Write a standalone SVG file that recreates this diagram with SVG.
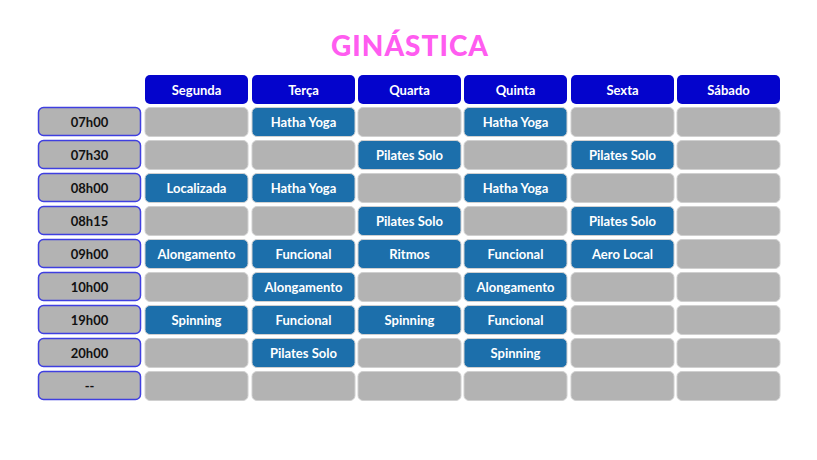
<svg xmlns="http://www.w3.org/2000/svg" width="817" height="460" viewBox="0 0 817 460">
<style>
.t{font-family:"Lato","Noto Sans",sans-serif;font-weight:bold;font-size:13px;text-anchor:middle;dominant-baseline:central}
.w{fill:#fff}.k{fill:#111}
.hd{fill:#0404cc}
.tm{fill:#b3b3b3;stroke:#3f3fe0;stroke-width:1.5}
.e{fill:#b3b3b3;stroke:#d0d0d0;stroke-width:1}
.c{fill:#1c6fab;stroke:#d0d0d0;stroke-width:1}
.ti{font-family:"Lato","Open Sans",sans-serif;font-weight:900;font-size:28px;fill:#ff5cf0;text-anchor:middle;letter-spacing:1px}
</style>
<rect width="817" height="460" fill="#fff"/>
<text class="ti" x="410" y="56">GINÁSTICA</text>
<g id="header">
<rect class="hd" x="145" y="75" width="103" height="29" rx="5"/><text class="t w" x="196.5" y="89.5">Segunda</text>
<rect class="hd" x="252" y="75" width="103" height="29" rx="5"/><text class="t w" x="303.5" y="89.5">Terça</text>
<rect class="hd" x="358" y="75" width="103" height="29" rx="5"/><text class="t w" x="409.5" y="89.5">Quarta</text>
<rect class="hd" x="464" y="75" width="103" height="29" rx="5"/><text class="t w" x="515.5" y="89.5">Quinta</text>
<rect class="hd" x="571" y="75" width="103" height="29" rx="5"/><text class="t w" x="622.5" y="89.5">Sexta</text>
<rect class="hd" x="677" y="75" width="103" height="29" rx="5"/><text class="t w" x="728.5" y="89.5">Sábado</text>
</g>
<g id="row1"><rect class="tm" x="38.5" y="107.5" width="102" height="28" rx="5"/><text class="t k" x="89.5" y="122">07h00</text>
<rect class="e" x="145" y="107.5" width="103" height="29" rx="5"/>
<rect class="c" x="252" y="107.5" width="103" height="29" rx="5"/><text class="t w" x="303.5" y="122">Hatha Yoga</text>
<rect class="e" x="358" y="107.5" width="103" height="29" rx="5"/>
<rect class="c" x="464" y="107.5" width="103" height="29" rx="5"/><text class="t w" x="515.5" y="122">Hatha Yoga</text>
<rect class="e" x="571" y="107.5" width="103" height="29" rx="5"/>
<rect class="e" x="677" y="107.5" width="103" height="29" rx="5"/></g>
<g id="row2"><rect class="tm" x="38.5" y="140.5" width="102" height="28" rx="5"/><text class="t k" x="89.5" y="155">07h30</text>
<rect class="e" x="145" y="140.5" width="103" height="29" rx="5"/>
<rect class="e" x="252" y="140.5" width="103" height="29" rx="5"/>
<rect class="c" x="358" y="140.5" width="103" height="29" rx="5"/><text class="t w" x="409.5" y="155">Pilates Solo</text>
<rect class="e" x="464" y="140.5" width="103" height="29" rx="5"/>
<rect class="c" x="571" y="140.5" width="103" height="29" rx="5"/><text class="t w" x="622.5" y="155">Pilates Solo</text>
<rect class="e" x="677" y="140.5" width="103" height="29" rx="5"/></g>
<g id="row3"><rect class="tm" x="38.5" y="173.5" width="102" height="28" rx="5"/><text class="t k" x="89.5" y="188">08h00</text>
<rect class="c" x="145" y="173.5" width="103" height="29" rx="5"/><text class="t w" x="196.5" y="188">Localizada</text>
<rect class="c" x="252" y="173.5" width="103" height="29" rx="5"/><text class="t w" x="303.5" y="188">Hatha Yoga</text>
<rect class="e" x="358" y="173.5" width="103" height="29" rx="5"/>
<rect class="c" x="464" y="173.5" width="103" height="29" rx="5"/><text class="t w" x="515.5" y="188">Hatha Yoga</text>
<rect class="e" x="571" y="173.5" width="103" height="29" rx="5"/>
<rect class="e" x="677" y="173.5" width="103" height="29" rx="5"/></g>
<g id="row4"><rect class="tm" x="38.5" y="206.5" width="102" height="28" rx="5"/><text class="t k" x="89.5" y="221">08h15</text>
<rect class="e" x="145" y="206.5" width="103" height="29" rx="5"/>
<rect class="e" x="252" y="206.5" width="103" height="29" rx="5"/>
<rect class="c" x="358" y="206.5" width="103" height="29" rx="5"/><text class="t w" x="409.5" y="221">Pilates Solo</text>
<rect class="e" x="464" y="206.5" width="103" height="29" rx="5"/>
<rect class="c" x="571" y="206.5" width="103" height="29" rx="5"/><text class="t w" x="622.5" y="221">Pilates Solo</text>
<rect class="e" x="677" y="206.5" width="103" height="29" rx="5"/></g>
<g id="row5"><rect class="tm" x="38.5" y="239.5" width="102" height="28" rx="5"/><text class="t k" x="89.5" y="254">09h00</text>
<rect class="c" x="145" y="239.5" width="103" height="29" rx="5"/><text class="t w" x="196.5" y="254">Alongamento</text>
<rect class="c" x="252" y="239.5" width="103" height="29" rx="5"/><text class="t w" x="303.5" y="254">Funcional</text>
<rect class="c" x="358" y="239.5" width="103" height="29" rx="5"/><text class="t w" x="409.5" y="254">Ritmos</text>
<rect class="c" x="464" y="239.5" width="103" height="29" rx="5"/><text class="t w" x="515.5" y="254">Funcional</text>
<rect class="c" x="571" y="239.5" width="103" height="29" rx="5"/><text class="t w" x="622.5" y="254">Aero Local</text>
<rect class="e" x="677" y="239.5" width="103" height="29" rx="5"/></g>
<g id="row6"><rect class="tm" x="38.5" y="272.5" width="102" height="28" rx="5"/><text class="t k" x="89.5" y="287">10h00</text>
<rect class="e" x="145" y="272.5" width="103" height="29" rx="5"/>
<rect class="c" x="252" y="272.5" width="103" height="29" rx="5"/><text class="t w" x="303.5" y="287">Alongamento</text>
<rect class="e" x="358" y="272.5" width="103" height="29" rx="5"/>
<rect class="c" x="464" y="272.5" width="103" height="29" rx="5"/><text class="t w" x="515.5" y="287">Alongamento</text>
<rect class="e" x="571" y="272.5" width="103" height="29" rx="5"/>
<rect class="e" x="677" y="272.5" width="103" height="29" rx="5"/></g>
<g id="row7"><rect class="tm" x="38.5" y="305.5" width="102" height="28" rx="5"/><text class="t k" x="89.5" y="320">19h00</text>
<rect class="c" x="145" y="305.5" width="103" height="29" rx="5"/><text class="t w" x="196.5" y="320">Spinning</text>
<rect class="c" x="252" y="305.5" width="103" height="29" rx="5"/><text class="t w" x="303.5" y="320">Funcional</text>
<rect class="c" x="358" y="305.5" width="103" height="29" rx="5"/><text class="t w" x="409.5" y="320">Spinning</text>
<rect class="c" x="464" y="305.5" width="103" height="29" rx="5"/><text class="t w" x="515.5" y="320">Funcional</text>
<rect class="e" x="571" y="305.5" width="103" height="29" rx="5"/>
<rect class="e" x="677" y="305.5" width="103" height="29" rx="5"/></g>
<g id="row8"><rect class="tm" x="38.5" y="338.5" width="102" height="28" rx="5"/><text class="t k" x="89.5" y="353">20h00</text>
<rect class="e" x="145" y="338.5" width="103" height="29" rx="5"/>
<rect class="c" x="252" y="338.5" width="103" height="29" rx="5"/><text class="t w" x="303.5" y="353">Pilates Solo</text>
<rect class="e" x="358" y="338.5" width="103" height="29" rx="5"/>
<rect class="c" x="464" y="338.5" width="103" height="29" rx="5"/><text class="t w" x="515.5" y="353">Spinning</text>
<rect class="e" x="571" y="338.5" width="103" height="29" rx="5"/>
<rect class="e" x="677" y="338.5" width="103" height="29" rx="5"/></g>
<g id="row9"><rect class="tm" x="38.5" y="371.5" width="102" height="28" rx="5"/><text class="t k" x="89.5" y="386">--</text>
<rect class="e" x="145" y="371.5" width="103" height="29" rx="5"/>
<rect class="e" x="252" y="371.5" width="103" height="29" rx="5"/>
<rect class="e" x="358" y="371.5" width="103" height="29" rx="5"/>
<rect class="e" x="464" y="371.5" width="103" height="29" rx="5"/>
<rect class="e" x="571" y="371.5" width="103" height="29" rx="5"/>
<rect class="e" x="677" y="371.5" width="103" height="29" rx="5"/></g>
<g id="connectors"/>
</svg>
